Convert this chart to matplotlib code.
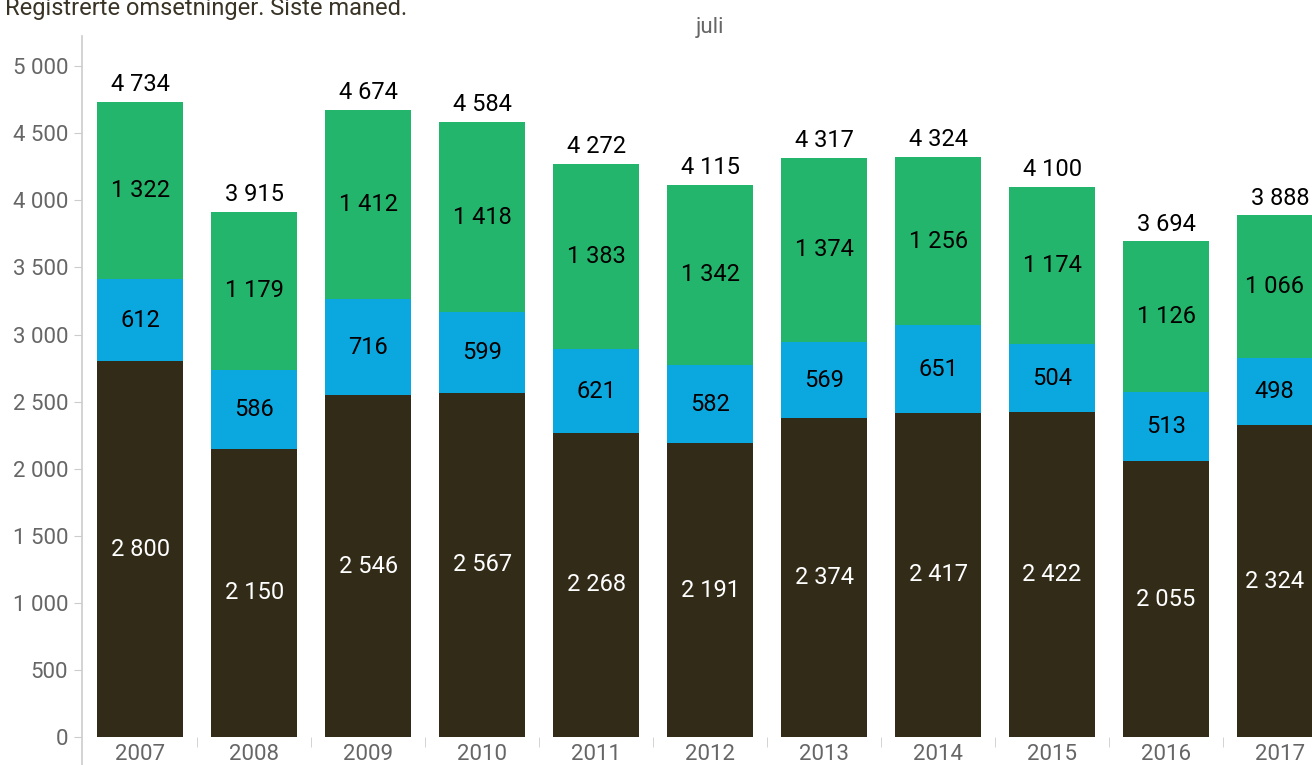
import matplotlib.pyplot as plt
from matplotlib.ticker import FixedLocator, FuncFormatter

plt.rcParams['font.family'] = ['Roboto', 'DejaVu Sans']

years = ["2007", "2008", "2009", "2010", "2011", "2012", "2013", "2014", "2015", "2016", "2017"]
bottom_vals = [2800, 2150, 2546, 2567, 2268, 2191, 2374, 2417, 2422, 2055, 2324]
middle_vals = [612, 586, 716, 599, 621, 582, 569, 651, 504, 513, 498]
top_vals = [1322, 1179, 1412, 1418, 1383, 1342, 1374, 1256, 1174, 1126, 1066]

c_dark = "#322b17"
c_blue = "#0ba8e0"
c_green = "#23b56b"
grey = "#666666"
line_grey = "#cccccc"


def fmt(v):
    return "{:,}".format(int(v)).replace(",", " ")


fig = plt.figure(figsize=(13.12, 7.65), dpi=100)
ax = fig.add_axes([82/1312, 28/765, 1 - 82/1312, (737-36)/765])

x = list(range(len(years)))
w = 0.754
mid_base = bottom_vals
top_base = [b + m for b, m in zip(bottom_vals, middle_vals)]
totals = [b + m + t for b, m, t in zip(bottom_vals, middle_vals, top_vals)]

b1 = ax.bar(x, bottom_vals, w, color=c_dark)
b2 = ax.bar(x, middle_vals, w, bottom=mid_base, color=c_blue)
b3 = ax.bar(x, top_vals, w, bottom=top_base, color=c_green)

ax.bar_label(b1, labels=[fmt(v) for v in bottom_vals], label_type='center', color='white', fontsize=17)
ax.bar_label(b2, labels=[fmt(v) for v in middle_vals], label_type='center', color='black', fontsize=17)
ax.bar_label(b3, labels=[fmt(v) for v in top_vals], label_type='center', color='black', fontsize=17)
for xi, tot in zip(x, totals):
    ax.annotate(fmt(tot), (xi, tot), xytext=(0, 4), textcoords='offset points',
                ha='center', va='bottom', fontsize=17, color='black')

ax.set_xlim(-0.51, 10.28)
ax.set_ylim(0, 5225)

ax.yaxis.set_major_locator(FixedLocator(range(0, 5001, 500)))
ax.yaxis.set_major_formatter(FuncFormatter(lambda v, p: fmt(v)))
ax.tick_params(axis='y', length=6, color=line_grey, labelcolor=grey, labelsize=16, pad=4)

ax.set_xticks(x)
ax.set_xticklabels(years)
ax.set_xticks([i + 0.5 for i in x[:-1]], minor=True)
ax.tick_params(axis='x', which='major', length=0, labelcolor=grey, labelsize=16, pad=5)
ax.tick_params(axis='x', which='minor', length=7, color=line_grey)

for s in ['top', 'right', 'bottom', 'left']:
    ax.spines[s].set_visible(False)
# left axis line, running down past the zero line to the figure edge
ax.plot([0, 0], [-0.06, 1.0], transform=ax.transAxes, color=line_grey, lw=1.2, clip_on=False)

fig.text(0.004, 750/765, "Registrerte omsetninger. Siste måned.", fontsize=17,
         color="#3a3427", va='baseline', ha='left')
fig.text(710/1312, 1 - 28/765, "juli", fontsize=16, color=grey, ha='center', va='center')

fig.savefig("out.png", dpi=100)
